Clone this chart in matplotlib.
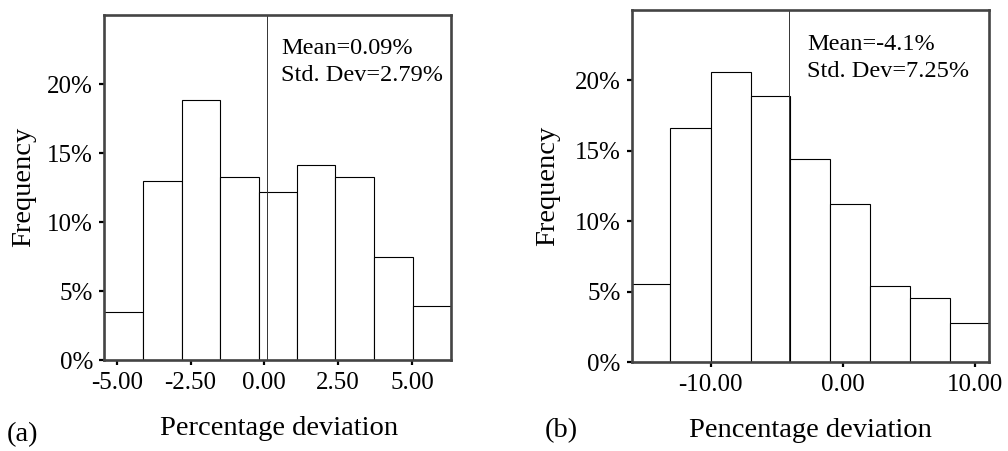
import numpy as np
import matplotlib
matplotlib.use("Agg")
import matplotlib.pyplot as plt

plt.rcParams['font.family'] = ['Liberation Serif', 'DejaVu Serif']

# panel (a)
a_edges = [-5.42, -4.10, -2.79, -1.51, -0.19, 1.11, 2.40, 3.71, 5.03, 6.31]
a_freq = [3.50, 13.02, 18.86, 13.31, 12.17, 14.15, 13.31, 7.46, 3.94]
a_mean = 0.09
a_std = 2.79
a_xticks = [-5.0, -2.5, 0.0, 2.5, 5.0]

# panel (b)
b_edges = [-15.97, -13.05, -9.99, -6.95, -4.02, -0.96, 2.07, 5.03, 8.07, 11.04]
b_freq = [5.59, 16.66, 20.57, 18.86, 14.45, 11.26, 5.40, 4.55, 2.77]
b_mean = -4.1
b_std = 7.25
b_xticks = [-10.0, 0.0, 10.0]

yticks = [0, 5, 10, 15, 20]

fig = plt.figure(figsize=(10.08, 4.51), dpi=100)
ax_a = fig.add_axes([0.1035, 0.2007, 0.3435, 0.766])
ax_b = fig.add_axes([0.6267, 0.1967, 0.3545, 0.7812])


def draw(ax, edges, freq, mean, std, xticks, mean_txt, tx):
    left = edges[:-1]
    widths = np.diff(edges)
    ax.bar(left, freq, width=widths, align='edge', color='white',
           edgecolor='black', linewidth=0.8)
    ax.axvline(mean, color='#333333', linewidth=0.7)
    ax.set_xlim(edges[0], edges[-1])
    ax.set_ylim(0, 25)
    ax.set_xticks(xticks)
    ax.set_xticklabels(['%.2f' % t for t in xticks])
    ax.set_yticks(yticks)
    ax.set_yticklabels(['%d%%' % t for t in yticks])
    for s in ax.spines.values():
        s.set_linewidth(1.9)
        s.set_color('#444444')
    ax.tick_params(axis='both', labelsize=18, length=3.6, width=1.6,
                   color='black')
    ax.tick_params(axis='x', pad=5)
    ax.tick_params(axis='y', pad=4.5)
    ax.text(tx, 0.887, mean_txt, transform=ax.transAxes, fontsize=17.5,
            va='baseline')
    ax.text(tx, 0.81, 'Std. Dev=%.2f%%' % std, transform=ax.transAxes,
            fontsize=17.5, va='baseline')


draw(ax_a, a_edges, a_freq, a_mean, a_std, a_xticks, 'Mean=%.2f%%' % a_mean, 0.51)
draw(ax_b, b_edges, b_freq, b_mean, b_std, b_xticks, 'Mean=%.1f%%' % b_mean, 0.49)

fig.text(24 / 1008, 1 - 187 / 451, 'Frequency', rotation=90, fontsize=20.5,
         ha='center', va='center')
fig.text(548 / 1008, 1 - 186 / 451, 'Frequency', rotation=90, fontsize=20.5,
         ha='center', va='center')
fig.text(279 / 1008, 1 - 435 / 451, 'Percentage deviation', fontsize=20.5,
         ha='center', va='baseline')
fig.text(810 / 1008, 1 - 437 / 451, 'Pencentage deviation', fontsize=20.5,
         ha='center', va='baseline')
fig.text(7 / 1008, 1 - 441 / 451, '(a)', fontsize=20.5, ha='left', va='baseline')
fig.text(545 / 1008, 1 - 437 / 451, '(b)', fontsize=20.5, ha='left', va='baseline')

fig.savefig('out.png', dpi=100, facecolor='white')
